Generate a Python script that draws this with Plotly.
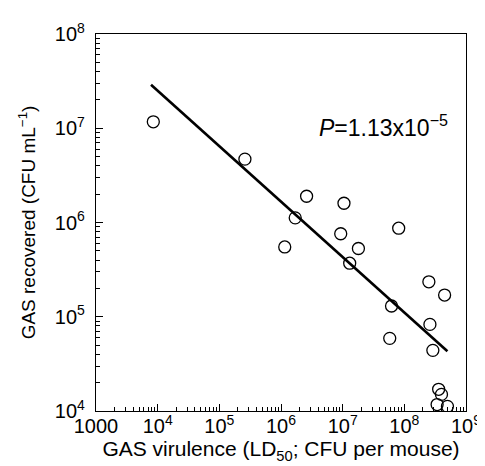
import plotly.graph_objects as go

virulence = [8.5e3, 2.6e5, 2.6e6, 1.05e7, 1.7e6, 9.3e6, 8.1e7, 1.15e6, 1.8e7, 1.3e7,
             2.5e8, 4.5e8, 6.2e7, 2.6e8, 5.8e7, 2.9e8, 3.6e8, 4.0e8, 3.4e8, 5.0e8]
recovered = [1.17e7, 4.7e6, 1.9e6, 1.6e6, 1.12e6, 7.6e5, 8.7e5, 5.5e5, 5.3e5, 3.7e5,
             2.35e5, 1.7e5, 1.3e5, 8.3e4, 5.9e4, 4.4e4, 1.7e4, 1.5e4, 1.17e4, 1.12e4]
fit_x = [7.8e3, 5.0e8]
fit_y = [2.9e7, 4.3e4]

x_tickvals = [1e3, 1e4, 1e5, 1e6, 1e7, 1e8, 1e9]
x_ticktext = ["1000", "10<sup>4</sup>", "10<sup>5</sup>", "10<sup>6</sup>",
              "10<sup>7</sup>", "10<sup>8</sup>", "10<sup>9</sup>"]
y_tickvals = [1e4, 1e5, 1e6, 1e7, 1e8]
y_ticktext = ["10<sup>4</sup>", "10<sup>5</sup>", "10<sup>6</sup>",
              "10<sup>7</sup>", "10<sup>8</sup>"]

x_minor = [k * 10 ** d for d in range(3, 9) for k in range(2, 10)]
y_minor = [k * 10 ** d for d in range(4, 8) for k in range(2, 10)]

font = "Liberation Sans, Arial, sans-serif"

fig = go.Figure()
fig.add_trace(go.Scatter(x=fit_x, y=fit_y, mode="lines",
                         line=dict(color="black", width=2.6), showlegend=False))
fig.add_trace(go.Scatter(x=virulence, y=recovered, mode="markers",
                         xaxis="x2", yaxis="y2",
                         marker=dict(symbol="circle-open", size=12,
                                     color="black", line=dict(width=1.3)),
                         showlegend=False))

fig.add_annotation(xref="paper", yref="paper",
                   x=(316 - 88) / (469 - 88), y=(403 - 114) / (403 - 21),
                   text="<i>P</i>=1.13x10<sup>−5</sup>", showarrow=False,
                   xanchor="left", yanchor="middle",
                   font=dict(family=font, size=23, color="black"))

axis_common = dict(type="log", showgrid=False, zeroline=False,
                   showline=True, linecolor="black", linewidth=1.3, mirror=True,
                   ticks="inside", ticklen=7, tickwidth=1.2, tickcolor="black",
                   tickfont=dict(family=font, size=20, color="black"))

fig.update_layout(
    xaxis=dict(**axis_common, range=[3, 9], tickvals=x_tickvals, ticktext=x_ticktext,
               ticklabelstandoff=-3,
               title=dict(text="GAS virulence (LD<sub>50</sub>; CFU per mouse)",
                          font=dict(family=font, size=21, color="black"), standoff=0)),
    yaxis=dict(**axis_common, range=[4, 8], tickvals=y_tickvals, ticktext=y_ticktext,
               ticklabelstandoff=6,
               title=dict(text="GAS recovered (CFU mL<sup>−1</sup>)",
                          font=dict(family=font, size=19, color="black"), standoff=14)),
    xaxis2=dict(type="log", range=[3, 9], overlaying="x", anchor="y2", side="bottom",
                tickvals=x_minor, showticklabels=False, ticks="inside", ticklen=4,
                tickwidth=1, tickcolor="black", showgrid=False, zeroline=False,
                showline=False),
    yaxis2=dict(type="log", range=[4, 8], overlaying="y", anchor="x2", side="left",
                tickvals=y_minor, showticklabels=False, ticks="inside", ticklen=4,
                tickwidth=1, tickcolor="black", showgrid=False, zeroline=False,
                showline=False),
    width=485, height=466, margin=dict(l=88, r=16, t=21, b=63),
    plot_bgcolor="white", paper_bgcolor="white")

fig.write_html("out.html")
